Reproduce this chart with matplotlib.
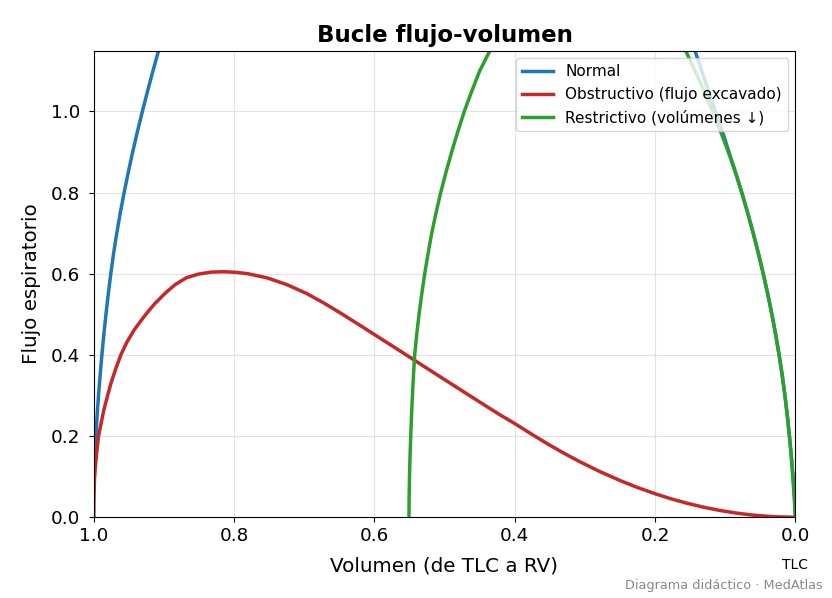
import matplotlib
matplotlib.use("Agg")
import matplotlib.pyplot as plt

# ---- data (volume fraction, flow) ----
# Normal: rising limb near TLC, then (above the visible top) the falling limb toward RV
vol_normal = [1.0, 0.9998, 0.9992, 0.9982, 0.9967, 0.995, 0.993, 0.9907, 0.9882, 0.9854,
              0.9824, 0.9791, 0.9755, 0.9715, 0.967, 0.962, 0.9565, 0.9506, 0.9443, 0.9376,
              0.9305, 0.9231, 0.9154, 0.9074, 0.8924,
              0.162, 0.1432, 0.1335, 0.1238, 0.1138, 0.104, 0.0947, 0.0853, 0.0764, 0.068,
              0.0601, 0.0527, 0.0458, 0.0394, 0.0335, 0.0281, 0.0232, 0.0188, 0.0149, 0.0115,
              0.0085, 0.0058, 0.0035, 0.0015, 0.0]
flow_normal = [0.0, 0.05, 0.1, 0.15, 0.2, 0.25, 0.3, 0.35, 0.4, 0.45,
               0.5, 0.55, 0.6, 0.65, 0.7, 0.75, 0.8, 0.85, 0.9, 0.95,
               1.0, 1.05, 1.1, 1.15, 1.24,
               1.24, 1.15, 1.1, 1.05, 1.0, 0.95, 0.9, 0.85, 0.8, 0.75,
               0.7, 0.65, 0.6, 0.55, 0.5, 0.45, 0.4, 0.35, 0.3, 0.25,
               0.2, 0.15, 0.1, 0.05, 0.0]

vol_obstr = [1.0, 0.99984, 0.99873, 0.9972, 0.9949, 0.993, 0.9855, 0.980, 0.9755, 0.9686,
             0.9612, 0.953, 0.9425, 0.927, 0.913, 0.898, 0.884, 0.868, 0.851, 0.833,
             0.815, 0.797, 0.78, 0.753, 0.725, 0.696, 0.672, 0.648, 0.62, 0.592,
             0.5634, 0.542, 0.52, 0.497, 0.473, 0.449, 0.421, 0.4, 0.377, 0.354,
             0.33, 0.307, 0.28, 0.25, 0.225, 0.2, 0.178, 0.155, 0.13, 0.1075,
             0.085, 0.06, 0.03, 0.0]
flow_obstr = [0.0, 0.04, 0.095, 0.132, 0.17, 0.2, 0.264, 0.3, 0.329, 0.365,
              0.4, 0.43, 0.461, 0.497, 0.526, 0.552, 0.573, 0.590, 0.599, 0.604,
              0.605, 0.6035, 0.600, 0.590, 0.5735, 0.551, 0.528, 0.503, 0.4725, 0.4415,
              0.410, 0.386, 0.3615, 0.336, 0.3095, 0.283, 0.2525, 0.231, 0.206, 0.1817,
              0.158, 0.1367, 0.1137, 0.0906, 0.0734, 0.058, 0.0459, 0.0348, 0.0245, 0.0168,
              0.0105, 0.0052, 0.0013, 0.0]

vol_restr = [0.5506, 0.5504, 0.5499, 0.5491, 0.5481, 0.547, 0.5457, 0.5442, 0.5425, 0.5396,
             0.5363, 0.5324, 0.5282, 0.5234, 0.5182, 0.5121, 0.5054, 0.4979, 0.4898, 0.4811,
             0.4718, 0.4611, 0.4498, 0.4352, 0.406,
             0.182, 0.1565, 0.143, 0.130, 0.118, 0.1065, 0.0955, 0.0855, 0.0764, 0.068,
             0.0601, 0.0527, 0.0458, 0.0394, 0.0335, 0.0281, 0.0232, 0.0188, 0.0149, 0.0115,
             0.0085, 0.0058, 0.0035, 0.0015, 0.0]
flow_restr = [0.0, 0.05, 0.1, 0.15, 0.2, 0.25, 0.3, 0.35, 0.4, 0.45,
              0.5, 0.55, 0.6, 0.65, 0.7, 0.75, 0.8, 0.85, 0.9, 0.95,
              1.0, 1.05, 1.1, 1.15, 1.24,
              1.24, 1.15, 1.1, 1.05, 1.0, 0.95, 0.9, 0.85, 0.8, 0.75,
              0.7, 0.65, 0.6, 0.55, 0.5, 0.45, 0.4, 0.35, 0.3, 0.25,
              0.2, 0.15, 0.1, 0.05, 0.0]

labels = ["Normal", "Obstructivo (flujo excavado)", "Restrictivo (volúmenes ↓)"]
colors = ["#1f77b4", "#c62828", "#2ca02c"]
x_ticks = [1.0, 0.8, 0.6, 0.4, 0.2, 0.0]
y_ticks = [0.0, 0.2, 0.4, 0.6, 0.8, 1.0]

fig = plt.figure(figsize=(8.32, 5.98), dpi=100)
ax = fig.add_axes([0.1125, 0.135, 0.8435, 0.7805])

series = [(vol_normal, flow_normal), (vol_obstr, flow_obstr), (vol_restr, flow_restr)]
for (v, f), lab, c in zip(series, labels, colors):
    ax.plot(v, f, color=c, lw=2.5, label=lab, solid_joinstyle="round")

ax.set_xlim(1.0, 0.0)
ax.set_ylim(0.0, 1.15)
ax.set_xticks(x_ticks)
ax.set_yticks(y_ticks)
ax.tick_params(labelsize=13.2)
ax.tick_params(axis="y", pad=6)
ax.grid(True, color="#dddddd", lw=0.8, alpha=0.8)
ax.set_title("Bucle flujo-volumen", fontsize=16.5, fontweight="bold")
ax.set_xlabel("Volumen (de TLC a RV)", fontsize=14.3, labelpad=8)
ax.set_ylabel("Flujo espiratorio", fontsize=14.3, labelpad=7)
ax.legend(loc="upper right", fontsize=11, framealpha=0.8)

ax.annotate("TLC", xy=(0.0, 0.0), xycoords=("data", "axes fraction"),
            xytext=(0, -34.5), textcoords="offset points", ha="center", va="center",
            fontsize=10)
fig.text(0.989, 0.0217, "Diagrama didáctico · MedAtlas", ha="right", va="center",
         fontsize=9.3, color="#888888")

fig.savefig("out.png", dpi=100)
